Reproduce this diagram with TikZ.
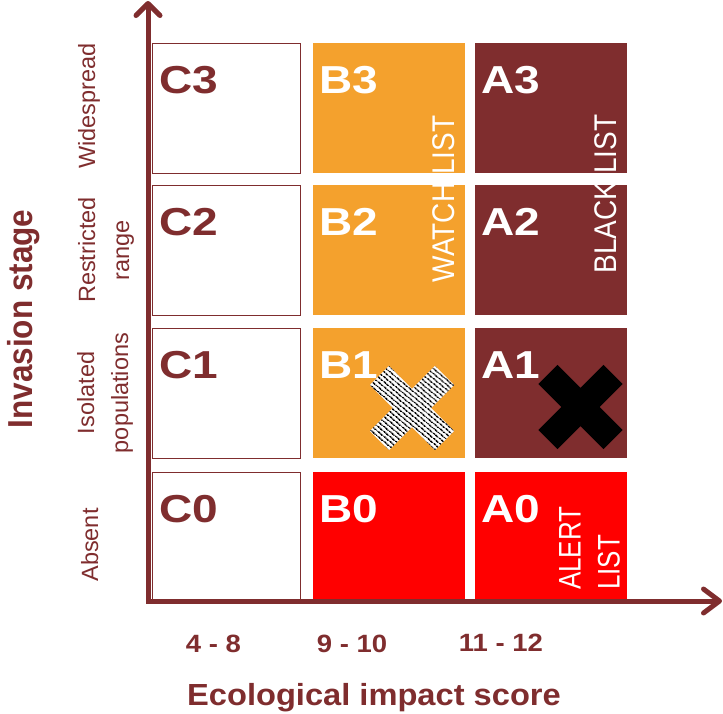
\documentclass[tikz,border=0pt]{standalone}
\usepackage{fontspec}
\setmainfont{Liberation Sans}
\usetikzlibrary{arrows.meta,patterns.meta}
\definecolor{darkmaroon}{RGB}{127,45,46}
\definecolor{orng}{RGB}{244,161,45}
\definecolor{brightred}{RGB}{255,0,0}
\begin{document}
\begin{tikzpicture}[x=1pt,y=-1pt,
  cellbase/.style={rectangle, inner sep=0pt, outer sep=0pt, minimum height=130pt},
  cellC/.style={cellbase, draw=darkmaroon, line width=1pt, fill=white, minimum width=148pt},
  cellB/.style={cellbase, fill=orng, minimum width=152pt},
  cellA/.style={cellbase, fill=darkmaroon, minimum width=152pt},
  cellR/.style={cellbase, fill=brightred, minimum width=152pt, minimum height=129pt},
  celllbl/.style={anchor=base west, inner sep=0pt, font=\fontsize{39}{39}\selectfont\bfseries},
  rowlbl/.style={rotate=90, anchor=north, inner sep=0pt, align=center, text=darkmaroon, font=\fontsize{23.5}{34}\selectfont},
  listlbl/.style={rotate=90, anchor=north, inner sep=0pt, text=white, font=\fontsize{28}{28}\selectfont},
  scorelbl/.style={anchor=base, inner sep=0pt, text=darkmaroon, font=\fontsize{25}{25}\selectfont\bfseries},
  axis/.style={draw=darkmaroon, line width=5pt},
  bigx/.pic={\path[pic actions, rotate=45] (13.5,13.5) -- (46,13.5) -- (46,-13.5) -- (13.5,-13.5) -- (13.5,-46) -- (-13.5,-46) -- (-13.5,-13.5) -- (-46,-13.5) -- (-46,13.5) -- (-13.5,13.5) -- (-13.5,46) -- (13.5,46) -- cycle;}
]
\useasboundingbox (0,0) rectangle (723,713);

% cells
\node[cellC] (c3) at (226,108) {};
\node[cellC] (c2) at (226,250) {};
\node[cellC] (c1) at (226,393) {};
\node[cellC, minimum height=129pt] (c0) at (226,536.5) {};
\node[cellB] (b3) at (389,108) {};
\node[cellB] (b2) at (389,250) {};
\node[cellB] (b1) at (389,393) {};
\node[cellR] (b0) at (389,536.5) {};
\node[cellA] (a3) at (551,108) {};
\node[cellA] (a2) at (551,250) {};
\node[cellA] (a1) at (551,393) {};
\node[cellR] (a0) at (551,536.5) {};

% cell labels
\node[celllbl, text=darkmaroon] (lc3) at ([shift={(7,50)}]c3.north west) {\scalebox{1.18}[1]{C3}};
\node[celllbl, text=darkmaroon] (lc2) at ([shift={(7,50)}]c2.north west) {\scalebox{1.18}[1]{C2}};
\node[celllbl, text=darkmaroon] (lc1) at ([shift={(7,50)}]c1.north west) {\scalebox{1.18}[1]{C1}};
\node[celllbl, text=darkmaroon] (lc0) at ([shift={(7,50)}]c0.north west) {\scalebox{1.18}[1]{C0}};
\node[celllbl, text=white] (lb3) at ([shift={(6,50)}]b3.north west) {\scalebox{1.18}[1]{B3}};
\node[celllbl, text=white] (lb2) at ([shift={(6,50)}]b2.north west) {\scalebox{1.18}[1]{B2}};
\node[celllbl, text=white] (lb1) at ([shift={(6,50)}]b1.north west) {\scalebox{1.18}[1]{B1}};
\node[celllbl, text=white] (lb0) at ([shift={(6,50)}]b0.north west) {\scalebox{1.18}[1]{B0}};
\node[celllbl, text=white] (la3) at ([shift={(6,50)}]a3.north west) {\scalebox{1.18}[1]{A3}};
\node[celllbl, text=white] (la2) at ([shift={(6,50)}]a2.north west) {\scalebox{1.18}[1]{A2}};
\node[celllbl, text=white] (la1) at ([shift={(6,50)}]a1.north west) {\scalebox{1.18}[1]{A1}};
\node[celllbl, text=white] (la0) at ([shift={(6,50)}]a0.north west) {\scalebox{1.18}[1]{A0}};

% list labels
\node[listlbl] (watch) at (432,199) {\scalebox{1}[1.12]{WATCH LIST}};
\node[listlbl] (black) at (594,194) {\scalebox{1}[1.12]{BLACK LIST}};
\node[rotate=90, anchor=north west, inner sep=0pt, text=white, font=\fontsize{26}{32.5}\selectfont] (alert) at (553,590)
  {\scalebox{1}[1.2]{\begin{tabular}{@{}l@{}}ALERT\\LIST\end{tabular}}};

% crosses
\pic[fill=white] at (412,408) {bigx};
\pic[pattern={Lines[angle=-40,distance=4pt,line width=2pt]}, pattern color=black] at (412,408) {bigx};
\pic[fill=black] at (580.5,407) {bigx};

% axes
\coordinate (ytip) at (148,1);
\coordinate (origin) at (148,601);
\coordinate (xtip) at (722,601);
\draw[axis, line join=miter, {Straight Barb[length=12pt,width=24pt,round]}-{Straight Barb[length=16pt,width=24pt,round]}] (ytip) -- (origin) -- (xtip);

% row labels
\node[rowlbl] (rw3) at (78,106) {Widespread};
\node[rowlbl] (rw2) at (78,250) {Restricted\\range};
\node[rowlbl] (rw1) at (77,393) {Isolated\\populations};
\node[rowlbl] (rw0) at (81,545) {Absent};

% axis titles
\node[rotate=90, anchor=north, inner sep=0pt, text=darkmaroon, font=\fontsize{31.5}{31.5}\selectfont\bfseries] (ytitle) at (7,319) {\scalebox{1}[1.1]{Invasion stage}};
\node[scorelbl] (s1) at (213.5,652) {\scalebox{1.1}[1]{4 - 8}};
\node[scorelbl] (s2) at (352,652) {\scalebox{1.1}[1]{9 - 10}};
\node[scorelbl] (s3) at (501,651) {\scalebox{1.1}[1]{11 - 12}};
\node[anchor=base, inner sep=0pt, text=darkmaroon, font=\fontsize{30.5}{30.5}\selectfont\bfseries] (xtitle) at (374,705) {\scalebox{1.07}[1]{Ecological impact score}};
\end{tikzpicture}
\end{document}
